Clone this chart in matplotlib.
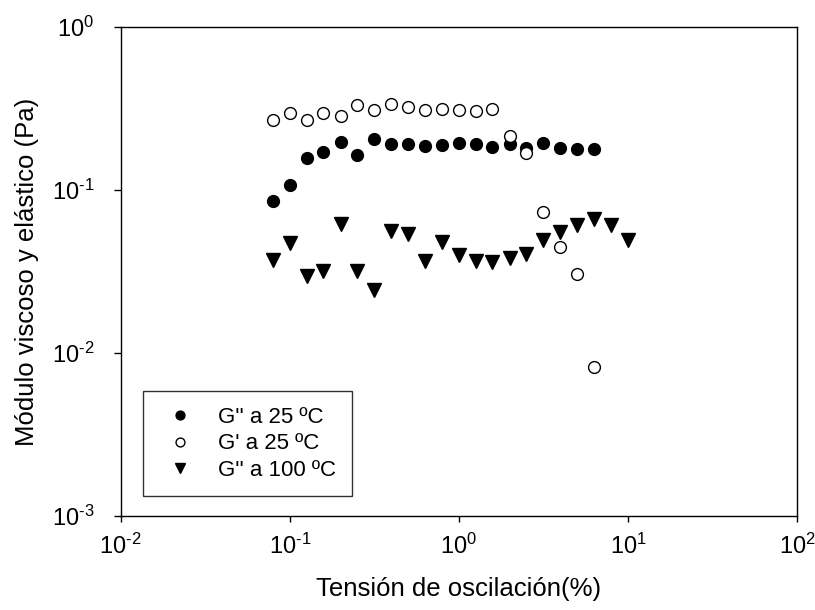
import matplotlib
matplotlib.use("Agg")
import matplotlib.pyplot as plt
import numpy as np

plt.rcParams['font.family'] = ['Liberation Sans', 'DejaVu Sans']
plt.rcParams['mathtext.fontset'] = 'custom'
plt.rcParams['mathtext.rm'] = 'Liberation Sans'
plt.rcParams['mathtext.it'] = 'Liberation Sans'
plt.rcParams['mathtext.default'] = 'regular'

# strain (%)
strain = [0.0794, 0.1, 0.126, 0.158, 0.2, 0.251, 0.316, 0.398, 0.501, 0.631,
          0.794, 1.0, 1.26, 1.58, 2.0, 2.51, 3.16, 3.98, 5.01, 6.31, 7.94, 10.0]

# G'' at 25 C (filled circles), first 20 points
g2_25 = [0.0857, 0.107, 0.158, 0.172, 0.196, 0.164, 0.204, 0.191, 0.191, 0.185,
         0.188, 0.194, 0.191, 0.184, 0.192, 0.182, 0.195, 0.182, 0.178, 0.178]

# G' at 25 C (open circles), first 20 points
g1_25 = [0.269, 0.296, 0.269, 0.296, 0.285, 0.331, 0.308, 0.336, 0.323, 0.308,
         0.315, 0.311, 0.303, 0.313, 0.215, 0.169, 0.0733, 0.0446, 0.0304, 0.00819]

# G'' at 100 C (triangles), all 22 points
g2_100 = [0.0373, 0.0471, 0.0296, 0.032, 0.0618, 0.032, 0.0243, 0.0562, 0.0535, 0.0365,
          0.0476, 0.0397, 0.0365, 0.0359, 0.0382, 0.0403, 0.0495, 0.0553, 0.0608, 0.0664,
          0.061, 0.0495]


def log_label(x, pos):
    # hyphen style exponent like the original software
    e = int(round(np.log10(x)))
    return r'$10^{\text{%d}}$' % e


fig = plt.figure(figsize=(8.15, 6.1), dpi=100)
ax = fig.add_axes([0.148, 0.154, 0.83, 0.802])

ax.plot(strain[:len(g2_25)], g2_25, 'o', color='black', markersize=8.5,
        label="G'' a 25 ºC")
ax.plot(strain[:len(g1_25)], g1_25, 'o', markerfacecolor='white',
        markeredgecolor='black', markeredgewidth=1.0, markersize=8.5,
        label="G' a 25 ºC")
ax.plot(strain, g2_100, 'v', color='black', markersize=9.5,
        label="G'' a 100 ºC")

ax.set_xscale('log')
ax.set_yscale('log')
ax.set_xlim(1e-2, 1e2)
ax.set_ylim(1e-3, 1e0)
ax.xaxis.set_minor_locator(matplotlib.ticker.NullLocator())
ax.yaxis.set_minor_locator(matplotlib.ticker.NullLocator())
ax.xaxis.set_major_formatter(matplotlib.ticker.FuncFormatter(log_label))
ax.yaxis.set_major_formatter(matplotlib.ticker.FuncFormatter(log_label))
ax.tick_params(axis='x', which='major', direction='out', length=4,
               width=1, labelsize=17, pad=9)
ax.tick_params(axis='y', which='major', direction='out', length=5,
               width=1, labelsize=17, pad=14)
for s in ax.spines.values():
    s.set_linewidth(1.0)

ax.set_xlabel('Tensión de oscilación(%)', fontsize=18.5, labelpad=13)
ax.set_ylabel('Módulo viscoso y elástico (Pa)', fontsize=18.5, labelpad=9)

leg = ax.legend(loc='lower left', bbox_to_anchor=(0.0325, 0.04), fontsize=16,
                frameon=True, fancybox=False, edgecolor='black',
                borderpad=0.7, handletextpad=0.7, labelspacing=0.25,
                markerscale=0.75, borderaxespad=0)
leg.get_frame().set_linewidth(1.0)

fig.savefig('out.png', dpi=100)
